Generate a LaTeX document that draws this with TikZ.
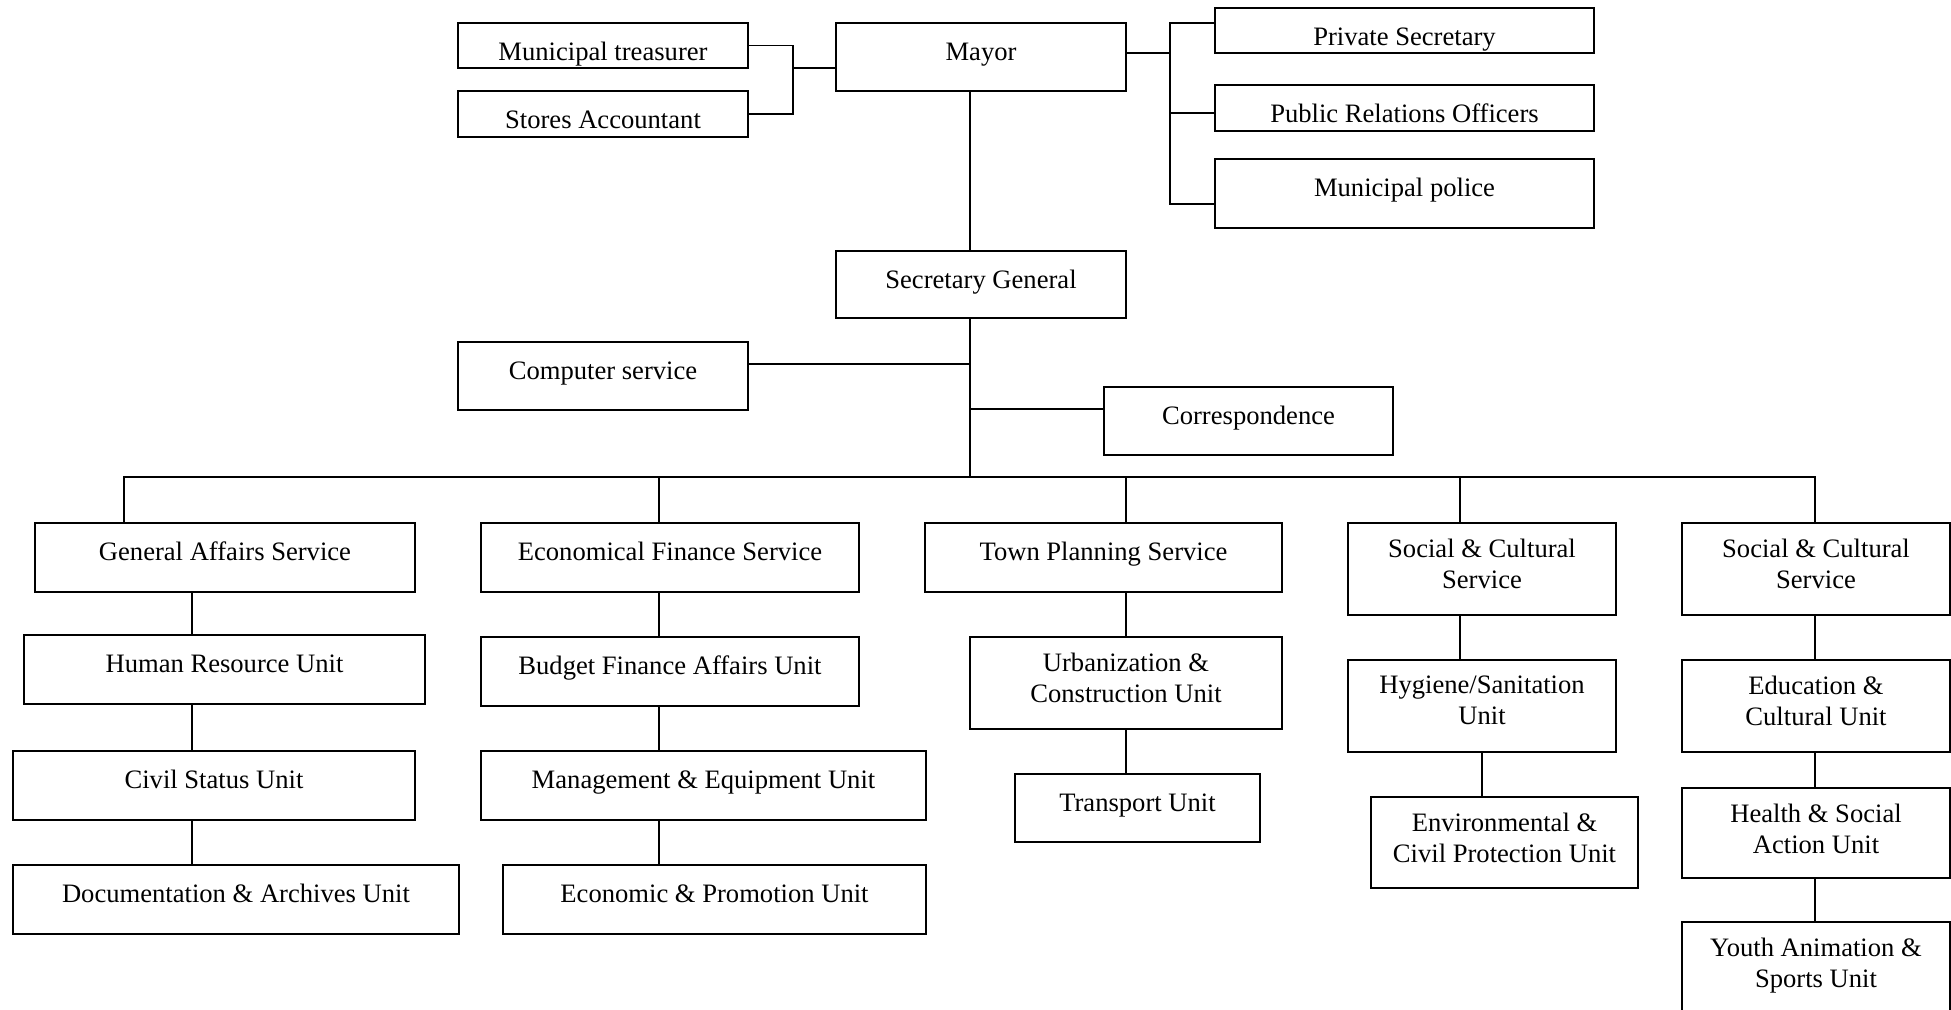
\documentclass[tikz,border=0pt]{standalone}
\usepackage{fontspec}
\setmainfont{Liberation Serif}
\usetikzlibrary{fit}

\newcommand\orgfont{\fontsize{13.3}{15.5}\selectfont}

\tikzset{
  box/.style={draw, line width=0.8pt, inner sep=0pt, outer sep=0pt},
  txt/.style={anchor=north, yshift=-7.5pt, inner sep=0pt, align=center,
    font=\orgfont, execute at begin node=\strut},
}

\begin{document}
\begin{tikzpicture}[x=0.5pt, y=-0.5pt, line width=0.65pt]
	\useasboundingbox (0,0) rectangle (1951,1009);
	% top level
	\node[box, fit={(836,23) (1126,91)}, label={[txt]north:Mayor}] (mayor) {};
	\node[box, fit={(458,23) (748,68)}, label={[txt]north:Municipal treasurer}] (treas) {};
	\node[box, fit={(458,91) (748,137)}, label={[txt]north:Stores Accountant}] (stores) {};
	\node[box, fit={(1215,8) (1594,53)}, label={[txt]north:Private Secretary}] (psec) {};
	\node[box, fit={(1215,85) (1594,131)}, label={[txt]north:Public Relations Officers}] (pro) {};
	\node[box, fit={(1215,159) (1594,228)}, label={[txt]north:Municipal police}] (police) {};
	\node[box, fit={(836,251) (1126,318)}, label={[txt]north:Secretary General}] (sg) {};
	\node[box, fit={(458,342) (748,410)}, label={[txt]north:Computer service}] (comp) {};
	\node[box, fit={(1104,387) (1393,455)}, label={[txt]north:Correspondence}] (corr) {};
	% services
	\node[box, fit={(35,523) (415,592)}, label={[txt]north:General Affairs Service}] (ga) {};
	\node[box, fit={(481,523) (859,592)}, label={[txt]north:Economical Finance Service}] (ef) {};
	\node[box, fit={(925,523) (1282,592)}, label={[txt]north:Town Planning Service}] (tp) {};
	\node[box, fit={(1348,523) (1616,615)}, label={[txt]north:Social \& Cultural\\Service}] (sc) {};
	\node[box, fit={(1682,523) (1950,615)}, label={[txt]north:Social \& Cultural\\Service}] (sca) {};
	% units
	\node[box, fit={(24,635) (425,704)}, label={[txt]north:Human Resource Unit}] (hr) {};
	\node[box, fit={(13,751) (415,820)}, label={[txt]north:Civil Status Unit}] (civ) {};
	\node[box, fit={(13,865) (459,934)}, label={[txt]north:Documentation \& Archives Unit}] (doc) {};
	\node[box, fit={(481,637) (859,706)}, label={[txt]north:Budget Finance Affairs Unit}] (bud) {};
	\node[box, fit={(481,751) (926,820)}, label={[txt]north:Management \& Equipment Unit}] (mgt) {};
	\node[box, fit={(503,865) (926,934)}, label={[txt]north:Economic \& Promotion Unit}] (eco) {};
	\node[box, fit={(970,637) (1282,729)}, label={[txt]north:Urbanization \&\\Construction Unit}] (urb) {};
	\node[box, fit={(1015,774) (1260,842)}, label={[txt]north:Transport Unit}] (trans) {};
	\node[box, fit={(1348,660) (1616,752)}, label={[txt]north:Hygiene/Sanitation\\Unit}] (hyg) {};
	\node[box, fit={(1371,797) (1638,888)}, label={[txt]north:Environmental \&\\Civil Protection Unit}] (env) {};
	\node[box, fit={(1682,660) (1950,752)}, label={[txt]north:Education \&\\Cultural Unit}] (edu) {};
	\node[box, fit={(1682,788) (1950,878)}, label={[txt]north:Health \& Social\\Action Unit}] (hsa) {};
	\node[box, fit={(1682,922) (1950,1014)}, label={[txt]north:Youth Animation \&\\Sports Unit}] (yas) {};

	% junction points
	\coordinate (lbr) at (793,68);
	\coordinate (rbr) at (1170,53);
	\coordinate (r1) at (1170,23);
	\coordinate (r2) at (1170,113);
	\coordinate (r3) at (1170,204);
	\coordinate (trunk) at (970,477);
	\coordinate (cs) at (970,364);
	\coordinate (cr) at (970,409);
	\coordinate (d1) at (124,477);
	\coordinate (d2) at (659,477);
	\coordinate (d3) at (1126,477);
	\coordinate (d4) at (1460,477);
	\coordinate (d5) at (1815,477);
	\coordinate (kga) at (192,0);
	\coordinate (khy) at (1482,0);

	% mayor's office
	\draw (treas.east) -| (lbr) |- (stores.east);
	\draw (lbr) -- (lbr -| mayor.west);
	\draw (rbr -| mayor.east) -- (rbr);
	\draw (r1 -| psec.west) -- (r1) -- (r3) -- (r3 -| police.west);
	\draw (r2) -- (r2 -| pro.west);
	\draw (trunk |- mayor.south) -- (trunk |- sg.north);
	\draw (trunk |- sg.south) -- (trunk);
	\draw (cs) -- (cs -| comp.east);
	\draw (cr) -- (cr -| corr.west);

	% services bus
	\draw (d1 |- ga.north) -- (d1) -- (d5) -- (d5 |- sca.north);
	\foreach \d/\n in {d2/ef, d3/tp, d4/sc}
		\draw (\d) -- (\d |- \n.north);

	% unit chains
	\foreach \k/\a/\b in {kga/ga/hr, kga/hr/civ, kga/civ/doc,
		d2/ef/bud, d2/bud/mgt, d2/mgt/eco,
		d3/tp/urb, d3/urb/trans,
		d4/sc/hyg, khy/hyg/env,
		d5/sca/edu, d5/edu/hsa, d5/hsa/yas}
		\draw (\a.south -| \k) -- (\b.north -| \k);
\end{tikzpicture}
\end{document}
